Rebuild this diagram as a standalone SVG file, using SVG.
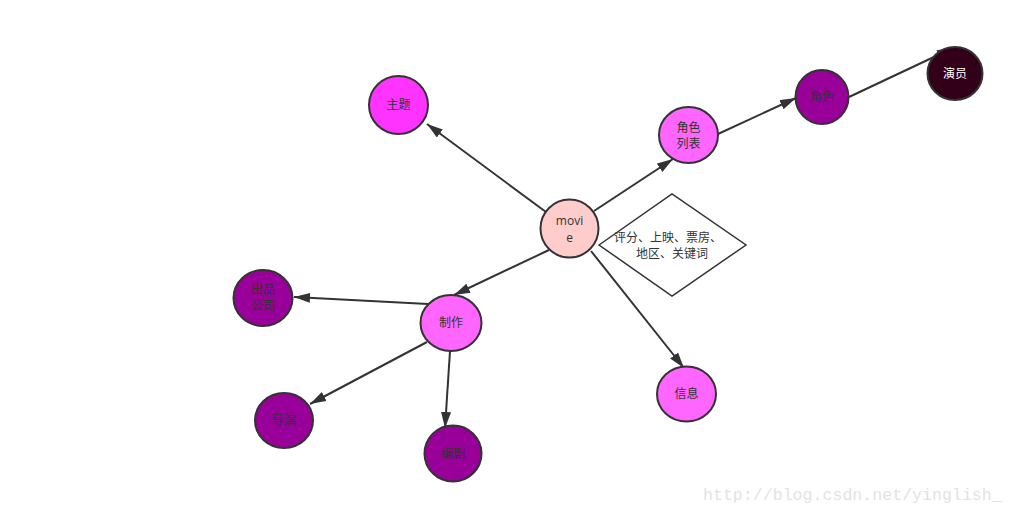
<svg xmlns="http://www.w3.org/2000/svg" width="1014" height="514" viewBox="0 0 1014 514">
<defs>
<style>
.n{stroke:#333;stroke-width:2}
.t{font-family:"Open Sans","Noto Sans CJK SC",sans-serif;font-size:12px;fill:#333;text-anchor:middle}
.e{stroke:#333;stroke-width:2;fill:none;marker-end:url(#a)}
</style>
<marker id="a" markerUnits="userSpaceOnUse" markerWidth="17" markerHeight="12" refX="16" refY="5" orient="auto">
<path d="M0,0 L16,5 L0,10 z" fill="#333"/>
</marker>
</defs>
<rect width="1014" height="514" fill="#fff"/>
<g id="connectors">
<line class="e" x1="546" y1="212" x2="427" y2="124"/>
<line class="e" x1="594" y1="211" x2="673" y2="159"/>
<line class="e" x1="718" y1="134" x2="796" y2="98"/>
<line class="e" x1="849" y1="97" x2="953" y2="48"/>
<line class="e" x1="549" y1="250" x2="454" y2="295"/>
<line class="e" x1="428" y1="304" x2="294" y2="297"/>
<line class="e" x1="427" y1="342" x2="310" y2="404"/>
<line class="e" x1="450" y1="351" x2="445" y2="428"/>
<line class="e" x1="591" y1="251" x2="684" y2="368"/>
</g>
<g id="movie"><ellipse class="n" cx="569.5" cy="228.5" rx="29" ry="29" fill="#ffcccc"/><text class="t" x="569.5" y="225">movi</text><text class="t" x="569.5" y="242">e</text></g>
<g id="zhuti"><ellipse class="n" cx="398.5" cy="105" rx="29.5" ry="29" fill="#ff33ff"/><text class="t" x="398.5" y="109">主题</text></g>
<g id="juese-liebiao"><ellipse class="n" cx="688.5" cy="135" rx="29.5" ry="28" fill="#ff66ff"/><text class="t" x="688.5" y="132">角色</text><text class="t" x="688.5" y="148">列表</text></g>
<g id="juese"><ellipse class="n" cx="822" cy="97" rx="26.5" ry="27" fill="#990099"/><text class="t" x="822" y="101">角色</text></g>
<g id="yanyuan"><ellipse class="n" cx="955" cy="73.5" rx="27.5" ry="26.5" fill="#330019"/><text class="t" x="955" y="78" style="fill:#fff">演员</text></g>
<g id="info-diamond"><polygon points="599,245 672,194 746,245 672,296" fill="#fff" stroke="#333" stroke-width="1.5"/><text class="t" x="668" y="242">评分、上映、票房、</text><text class="t" x="672" y="258">地区、关键词</text></g>
<g id="zhizuo"><ellipse class="n" cx="451" cy="323" rx="30.5" ry="28" fill="#ff66ff"/><text class="t" x="451" y="327">制作</text></g>
<g id="chupin"><ellipse class="n" cx="263" cy="298" rx="29.5" ry="28" fill="#990099"/><text class="t" x="263" y="294">出品</text><text class="t" x="263" y="310">公司</text></g>
<g id="daoyan"><ellipse class="n" cx="284" cy="420.5" rx="29" ry="27.5" fill="#990099"/><text class="t" x="284" y="425">导演</text></g>
<g id="bianju"><ellipse class="n" cx="453" cy="453.5" rx="28.5" ry="28" fill="#990099"/><text class="t" x="453" y="458">编剧</text></g>
<g id="xinxi"><ellipse class="n" cx="686.5" cy="394" rx="29.5" ry="27.5" fill="#ff66ff"/><text class="t" x="686.5" y="398">信息</text></g>
<text x="703" y="500" font-family="Liberation Mono,monospace" font-size="16.6" fill="#e3e3e3">http://blog.csdn.net/yinglish_</text>
</svg>
